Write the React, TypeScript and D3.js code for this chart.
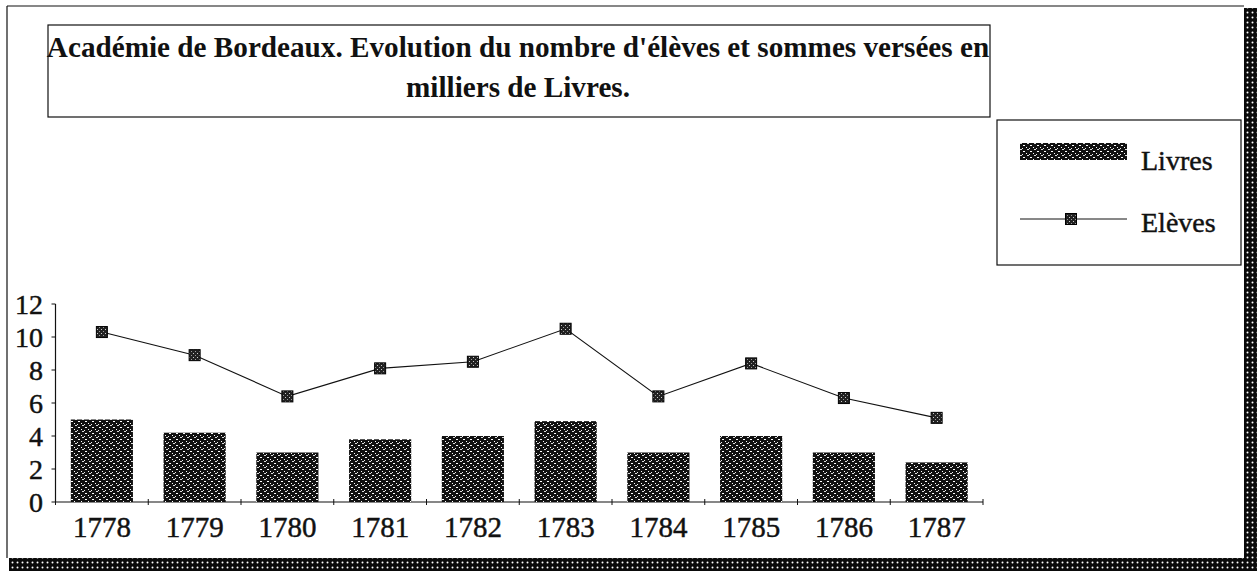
import React from 'react';
import * as d3 from 'd3';

const years = ['1778', '1779', '1780', '1781', '1782', '1783', '1784', '1785', '1786', '1787'];
const livres = [5.0, 4.2, 3.0, 3.8, 4.0, 4.9, 3.0, 4.0, 3.0, 2.4];
const eleves = [10.3, 8.9, 6.4, 8.1, 8.5, 10.5, 6.4, 8.4, 6.3, 5.1];
const yTicks = [0, 2, 4, 6, 8, 10, 12];
const titleLines = [
  "Académie de Bordeaux. Evolution du nombre d'élèves et sommes versées en",
  'milliers de Livres.',
];
const legendLabels = ['Livres', 'Elèves'];

const FONT = '"Liberation Serif", "DejaVu Serif", serif';

export default function App() {
  const W = 1257;
  const H = 571;
  const x = d3
    .scaleBand<string>()
    .domain(years)
    .range([55.5, 983])
    .paddingInner(0.33)
    .paddingOuter(0.165);
  const y = d3.scaleLinear().domain([0, 12]).range([502, 304]);
  const step = x.step();
  const x0 = 55.5;
  const cx = (d: string) => (x(d) as number) + x.bandwidth() / 2;

  const line = d3
    .line<number>()
    .x((_, i) => cx(years[i]))
    .y((v) => y(v));

  const boundaries = d3.range(years.length + 1).map((i) => x0 + i * step);
  const ms = 11;
  const txt = { fill: '#111', stroke: '#111', strokeWidth: 0.45 };

  return (
    <svg
      width={W}
      height={H}
      style={{ position: 'absolute', left: 0, top: 0, background: '#fff' }}
      fontFamily={FONT}
    >
      <defs>
        <pattern id="barPat" width="7" height="6" patternUnits="userSpaceOnUse">
          <rect width="7" height="6" fill="#111" />
          <rect x="1" y="1" width="2" height="1" fill="#fff" />
          <rect x="4" y="3" width="1" height="1" fill="#fff" />
          <rect x="5" y="5" width="2" height="1" fill="#ddd" />
          <rect x="0" y="4" width="1" height="1" fill="#eee" />
        </pattern>
        <pattern id="markPat" width="4" height="4" patternUnits="userSpaceOnUse">
          <rect width="4" height="4" fill="#222" />
          <rect x="1" y="1" width="1" height="1" fill="#ccc" />
          <rect x="3" y="3" width="1" height="1" fill="#999" />
        </pattern>
        <pattern id="shadowPat" width="5" height="5" patternUnits="userSpaceOnUse">
          <rect width="5" height="5" fill="#0a0a0a" />
          <circle cx="2.5" cy="2.5" r="1" fill="#fff" />
        </pattern>
      </defs>

      {/* outer frame */}
      <line x1={7} y1={6} x2={1244} y2={6} stroke="#111" strokeWidth={1.2} />
      <line x1={7} y1={6} x2={7} y2={558} stroke="#111" strokeWidth={1.2} />
      <rect x={1244} y={8} width={13} height={563} fill="url(#shadowPat)" />
      <rect x={9} y={558} width={1248} height={13} fill="url(#shadowPat)" />

      {/* title box */}
      <rect x={48} y={25} width={942} height={92} fill="#fff" stroke="#111" strokeWidth={1.2} />
      <text x={518} y={57} textAnchor="middle" fontSize={29.2} fontWeight="bold" fill="#111">
        {titleLines[0]}
      </text>
      <text x={518} y={97} textAnchor="middle" fontSize={29.2} fontWeight="bold" fill="#111">
        {titleLines[1]}
      </text>

      {/* legend */}
      <rect x={997} y={120} width={244} height={145} fill="#fff" stroke="#111" strokeWidth={1.2} />
      <rect x={1020} y={143} width={107} height={17} fill="url(#barPat)" />
      <text x={1141} y={170} fontSize={28} {...txt}>
        {legendLabels[0]}
      </text>
      <line x1={1020} y1={219} x2={1127} y2={219} stroke="#111" strokeWidth={1} />
      <rect x={1071 - ms / 2} y={219 - ms / 2} width={ms} height={ms} fill="url(#markPat)" stroke="#000" strokeWidth={1} />
      <text x={1141} y={232} fontSize={28} {...txt}>
        {legendLabels[1]}
      </text>

      {/* y axis */}
      <line x1={x0} y1={y(12)} x2={x0} y2={y(0)} stroke="#111" strokeWidth={1.2} />
      {yTicks.map((t) => (
        <g key={t}>
          <line x1={x0 - 4} y1={y(t)} x2={x0} y2={y(t)} stroke="#111" strokeWidth={1} />
          <text x={43} y={y(t)} dy="0.35em" textAnchor="end" fontSize={28} {...txt}>
            {t}
          </text>
        </g>
      ))}

      {/* x axis */}
      <line x1={x0} y1={y(0)} x2={983} y2={y(0)} stroke="#111" strokeWidth={1.2} />
      {boundaries.map((b, i) => (
        <line key={i} x1={b} y1={y(0) - 3} x2={b} y2={y(0) + 3} stroke="#111" strokeWidth={1} />
      ))}
      {years.map((yr) => (
        <text key={yr} x={cx(yr)} y={537} textAnchor="middle" fontSize={29} {...txt}>
          {yr}
        </text>
      ))}

      {/* bars */}
      {years.map((yr, i) => (
        <rect
          key={yr}
          x={x(yr)}
          y={y(livres[i])}
          width={x.bandwidth()}
          height={y(0) - y(livres[i])}
          fill="url(#barPat)"
        />
      ))}

      {/* line */}
      <path d={line(eleves) || ''} fill="none" stroke="#111" strokeWidth={1.1} />
      {eleves.map((v, i) => (
        <rect
          key={i}
          x={cx(years[i]) - ms / 2}
          y={y(v) - ms / 2}
          width={ms}
          height={ms}
          fill="url(#markPat)"
          stroke="#000"
          strokeWidth={1}
        />
      ))}
    </svg>
  );
}
